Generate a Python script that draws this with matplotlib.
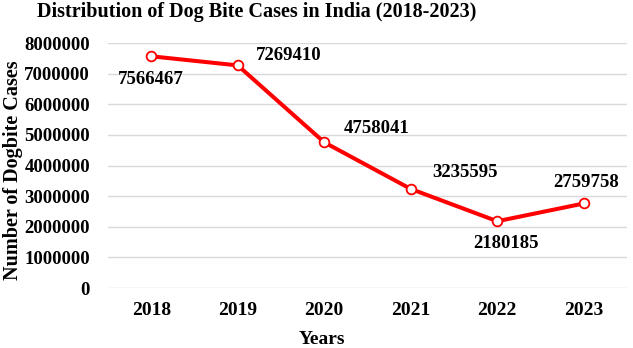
"""Line chart: dog bite cases in India, 2018-2023."""

import matplotlib

matplotlib.use("Agg")
import matplotlib.pyplot as plt

years = ["2018", "2019", "2020", "2021", "2022", "2023"]
cases = [7566467, 7269410, 4758041, 3235595, 2180185, 2759758]
y_ticks = [0, 1000000, 2000000, 3000000, 4000000, 5000000, 6000000, 7000000, 8000000]

# label offsets in points (dx, dy) relative to each marker
label_offsets = [(0, -17), (37, 7), (38, 10), (39, 12), (6, -16), (2, 15)]

plt.rcParams["font.family"] = ["Liberation Serif", "DejaVu Serif"]
plt.rcParams["font.weight"] = "bold"

fig = plt.figure(figsize=(6.33, 3.48), dpi=100)
ax = fig.add_axes([0.1706, 0.1724, 0.8199, 0.704])

x = list(range(len(years)))
ax.plot(x, cases, color="#ff0000", linewidth=2.9, marker="o", markersize=7,
        markerfacecolor="white", markeredgecolor="#ff0000", markeredgewidth=1.3,
        zorder=3)

for xi, val, (dx, dy) in zip(x, cases, label_offsets):
    ax.annotate(str(val), (xi, val), xytext=(dx, dy), textcoords="offset points",
                ha="center", va="center", fontsize=13.5, fontweight="bold")

ax.set_xlim(-0.5, len(years) - 0.5)
ax.set_ylim(0, 8000000)
ax.set_xticks(x)
ax.set_xticklabels(years)
ax.set_yticks(y_ticks)
ax.set_yticklabels([str(v) for v in y_ticks])
ax.tick_params(axis="y", length=0, pad=13, labelsize=13.5)
ax.tick_params(axis="x", length=0, pad=10, labelsize=14)
ax.grid(axis="y", color="#d9d9d9", linewidth=1)
ax.set_axisbelow(True)
for spine in ax.spines.values():
    spine.set_visible(False)

fig.text(0.406, 1 - 12 / 348, "Distribution of Dog Bite Cases in India (2018-2023)",
         ha="center", va="center", fontsize=14.5, fontweight="bold")
fig.text(13 / 633, 1 - 170 / 348, "Number of Dogbite Cases", rotation=90,
         ha="center", va="center", fontsize=14.5, fontweight="bold")
fig.text(322 / 633, 1 - 340 / 348, "Years", ha="center", va="center",
         fontsize=14, fontweight="bold")

fig.savefig("out.png", dpi=100)
